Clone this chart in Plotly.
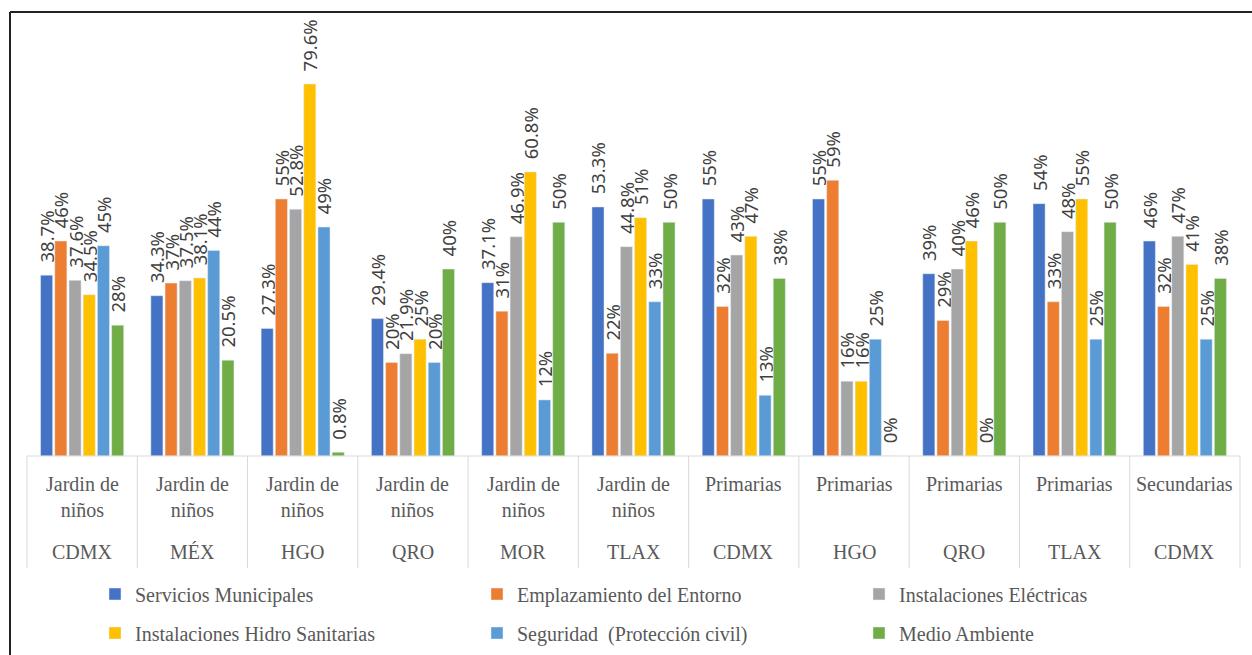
import plotly.graph_objects as go

# ---- data ----
nivel = ["Jardin de<br>niños", "Jardin de<br>niños", "Jardin de<br>niños", "Jardin de<br>niños",
         "Jardin de<br>niños", "Jardin de<br>niños", "Primarias", "Primarias", "Primarias",
         "Primarias", "Secundarias"]
estado = ["CDMX", "MÉX", "HGO", "QRO", "MOR", "TLAX", "CDMX", "HGO", "QRO", "TLAX", "CDMX"]

series_names = ["Servicios Municipales", "Emplazamiento del Entorno", "Instalaciones Eléctricas",
                "Instalaciones Hidro Sanitarias", "Seguridad  (Protección civil)", "Medio Ambiente"]

servicios = [38.7, 34.3, 27.3, 29.4, 37.1, 53.3, 55, 55, 39, 54, 46]
emplazamiento = [46, 37, 55, 20, 31, 22, 32, 59, 29, 33, 32]
electricas = [37.6, 37.5, 52.8, 21.9, 46.9, 44.8, 43, 16, 40, 48, 47]
hidro = [34.5, 38.1, 79.6, 25, 60.8, 51, 47, 16, 46, 55, 41]
seguridad = [45, 44, 49, 20, 12, 33, 13, 25, 0, 25, 25]
ambiente = [28, 20.5, 0.8, 40, 50, 50, 38, 0, 50, 50, 38]

series_values = [servicios, emplazamiento, electricas, hidro, seguridad, ambiente]
colors = ["#4472C4", "#ED7D31", "#A5A5A5", "#FFC000", "#5B9BD5", "#70AD47"]

# ---- layout geometry ----
W, H = 1252, 655
L, R, T, B = 27, 12, 20, 199
plot_h = H - T - B
baseline_px = H - B


def py(px):
    """pixel y -> paper y"""
    return (baseline_px - px) / plot_h


def pxx(px):
    return (px - L) / (W - L - R)


n = len(estado)
xs = list(range(n))

fig = go.Figure()
for k, (name, vals, col) in enumerate(zip(series_names, series_values, colors)):
    fig.add_trace(go.Bar(
        x=xs, y=vals, name=name, marker_color=col,
        text=["\u00a0\u00a0" + f"{v:g}%" for v in vals],
        textposition="outside", textangle=-90, constraintext="none",
        cliponaxis=False,
        textfont=dict(family="Noto Sans", size=18.5, color="#404040"),
        hoverinfo="skip",
        legend="legend" if k < 3 else "legend2",
    ))

shapes = []
# baseline
shapes.append(dict(type="line", xref="paper", yref="paper", x0=0, x1=1, y0=0, y1=0,
                   line=dict(color="#D9D9D9", width=1)))
# group separators
for k in range(n + 1):
    xp = k / n
    shapes.append(dict(type="line", xref="paper", yref="paper", x0=xp, x1=xp,
                       y0=0, y1=py(568), line=dict(color="#D9D9D9", width=1)))
# outer frame (left and top)
shapes.append(dict(type="line", xref="paper", yref="paper", x0=pxx(10), x1=pxx(1260),
                   y0=py(12), y1=py(12), line=dict(color="#222222", width=2)))
shapes.append(dict(type="line", xref="paper", yref="paper", x0=pxx(10), x1=pxx(10),
                   y0=py(12), y1=py(665), line=dict(color="#222222", width=2)))

annotations = []
for i in range(n):
    annotations.append(dict(x=i, xref="x", y=py(471), yref="paper", yanchor="top",
                            text=nivel[i], showarrow=False,
                            font=dict(family="Liberation Serif", size=20, color="#595959")))
    annotations.append(dict(x=i, xref="x", y=py(552), yref="paper", yanchor="middle",
                            text=estado[i], showarrow=False,
                            font=dict(family="Liberation Serif", size=20, color="#595959")))

legend_common = dict(orientation="h", xanchor="left", yanchor="middle",
                     font=dict(family="Liberation Serif", size=20, color="#595959"),
                     entrywidth=337, entrywidthmode="pixels",
                     bgcolor="rgba(0,0,0,0)")

fig.update_layout(
    width=W, height=H,
    margin=dict(l=L, r=R, t=T, b=B, autoexpand=False),
    paper_bgcolor="white", plot_bgcolor="white",
    barmode="group", bargap=0.227, bargroupgap=0.15,
    showlegend=True,
    legend=dict(x=pxx(95), y=py(594), **legend_common),
    legend2=dict(x=pxx(95), y=py(633), **legend_common),
    xaxis=dict(range=[-0.5, n - 0.5], showticklabels=False, showgrid=False,
               zeroline=False, showline=False, ticks=""),
    yaxis=dict(range=[0, plot_h / 4.673], visible=False),
    shapes=shapes, annotations=annotations,
)

fig.write_html("out.html", config={"displayModeBar": False},
               post_script="document.body.style.margin='0';")
